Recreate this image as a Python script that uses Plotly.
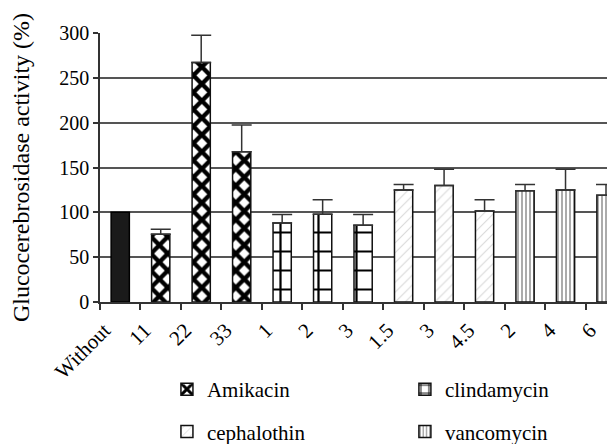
import plotly.graph_objects as go

# ---- data ----
control_label = "Without"
control_value = 100

amikacin_doses = ["11", "22", "33"]
amikacin_values = [75.5, 267, 167.5]
amikacin_err = [5.5, 30.5, 30]

clindamycin_doses = ["1", "2", "3"]
clindamycin_values = [88, 98, 85.5]
clindamycin_err = [9.5, 16, 12]

cephalothin_doses = ["1.5", "3", "4.5"]
cephalothin_values = [125, 130, 101.5]
cephalothin_err = [6, 18, 12.5]

vancomycin_doses = ["2", "4", "6"]
vancomycin_values = [124, 125, 119]
vancomycin_err = [7, 23, 12]

y_title = "Glucocerebrosidase activity (%)"
y_ticks = [0, 50, 100, 150, 200, 250, 300]

FONT = "'Liberation Serif', 'Times New Roman', Times, serif"

groups = [
    ("Amikacin", amikacin_doses, amikacin_values, amikacin_err,
     dict(shape="x", fgcolor="black", bgcolor="white", size=12, solidity=0.6, fgopacity=1), "legend"),
    ("clindamycin", clindamycin_doses, clindamycin_values, clindamycin_err,
     dict(shape="+", fgcolor="black", bgcolor="white", size=19, solidity=0.22, fgopacity=1), "legend2"),
    ("cephalothin", cephalothin_doses, cephalothin_values, cephalothin_err,
     dict(shape="/", fgcolor="#b0b0b0", bgcolor="white", size=7, solidity=0.15), "legend"),
    ("vancomycin", vancomycin_doses, vancomycin_values, vancomycin_err,
     dict(shape="|", fgcolor="#444444", bgcolor="white", size=4, solidity=0.45), "legend2"),
]

tick_ids = [control_label]
tick_text = [control_label]

fig = go.Figure()
fig.add_trace(go.Bar(
    x=[control_label], y=[control_value], width=0.45,
    marker=dict(color="#1a1a1a", line=dict(color="black", width=1.5)),
    showlegend=False,
))

order = ["Amikacin", "clindamycin", "cephalothin", "vancomycin"]
traces = {}
for name, doses, vals, errs, pat, leg in groups:
    ids = [f"{name} {d}" for d in doses]
    tick_ids += ids
    tick_text += doses
    traces[name] = go.Bar(
        x=ids, y=vals, width=0.45, name=name, legend=leg, legendgroup=name,
        marker=dict(color="white", pattern=pat, line=dict(color="#111111", width=1.5)),
        error_y=dict(type="data", array=errs, arrayminus=[0] * len(errs),
                     symmetric=False, color="#333333", thickness=1.5, width=10),
    )
for name in order:
    fig.add_trace(traces[name])

fig.update_layout(
    width=615, height=444,
    margin=dict(l=92, r=0, t=25, b=141),
    plot_bgcolor="white", paper_bgcolor="white",
    barmode="overlay",
    font=dict(family=FONT, size=20, color="black"),
    xaxis=dict(
        type="category", categoryorder="array", categoryarray=tick_ids,
        tickmode="array", tickvals=tick_ids, ticktext=tick_text,
        tickangle=-45, tickson="boundaries", ticks="outside", ticklen=6,
        tickcolor="#333", tickwidth=1.5,
        showline=True, linecolor="#333", linewidth=1.5,
        showgrid=False, range=[-0.5, 12.42],
        tickfont=dict(family=FONT, size=21),
        ticklabelshift=-16, ticklabelstandoff=6,
    ),
    yaxis=dict(
        range=[0, 300], tickvals=y_ticks, ticks="outside", ticklen=5,
        tickcolor="#333", tickwidth=1.5,
        showline=True, linecolor="#333", linewidth=1.5,
        showgrid=True, gridcolor="#555", gridwidth=1.5,
        zeroline=False,
        title=dict(text=y_title, font=dict(family=FONT, size=24), standoff=24),
        tickfont=dict(family=FONT, size=20),
    ),
    legend=dict(x=0.128, y=-0.25, xanchor="left", yanchor="top",
                orientation="v", tracegroupgap=12, bgcolor="rgba(0,0,0,0)",
                font=dict(family=FONT, size=21)),
    legend2=dict(x=0.583, y=-0.25, xanchor="left", yanchor="top",
                 orientation="v", tracegroupgap=12, bgcolor="rgba(0,0,0,0)",
                 font=dict(family=FONT, size=21)),
)

fig.write_html("out.html")
